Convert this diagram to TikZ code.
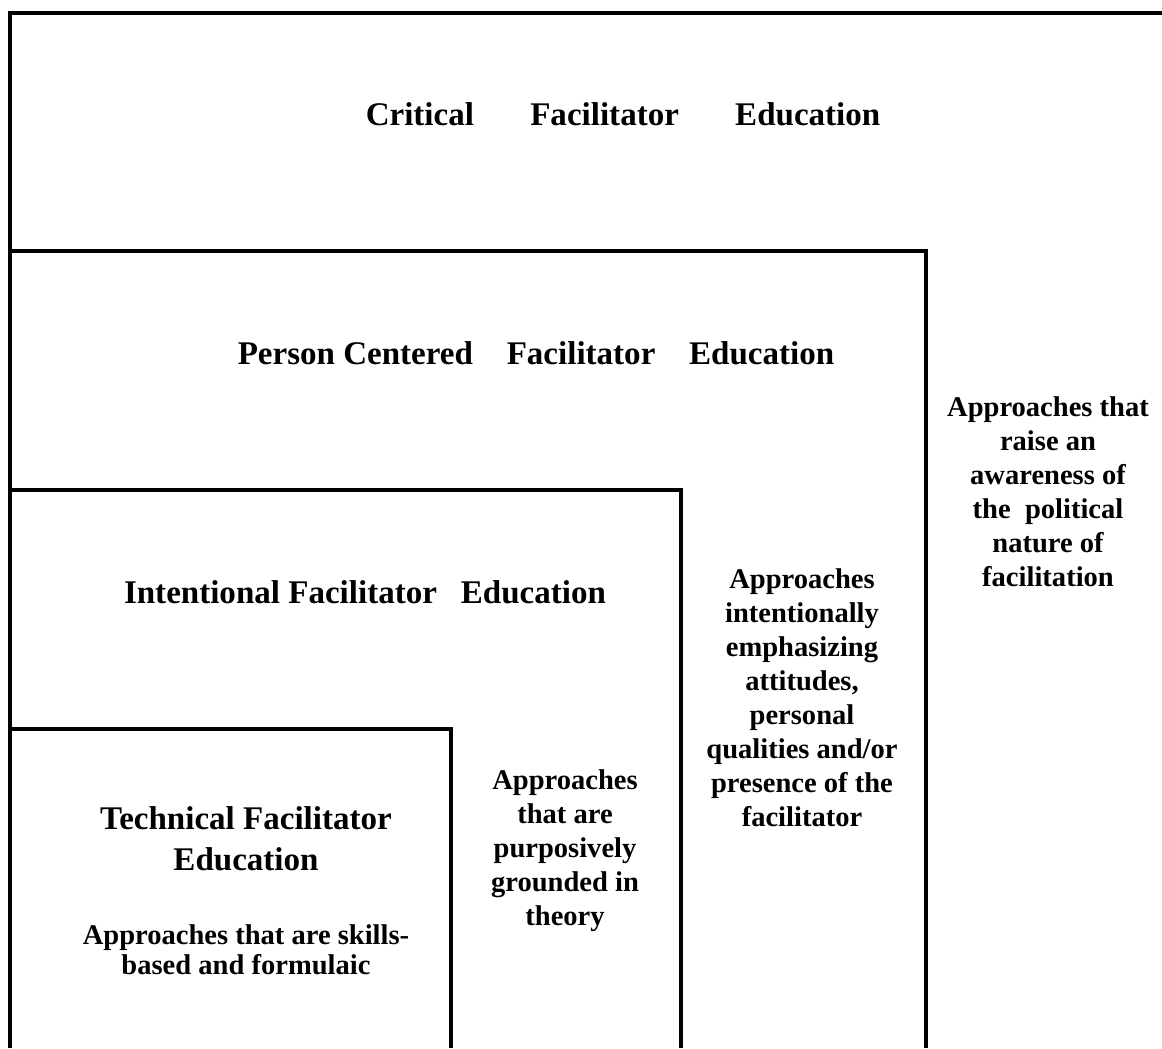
\documentclass[tikz,border=0pt]{standalone}
\usepackage{fontspec}
\setmainfont{Liberation Serif}
\usetikzlibrary{positioning}

\tikzset{
    kader/.style={line width=2.9pt, line join=miter},
    titel/.style={font=\bfseries\fontsize{23.5}{29}\selectfont, align=center, inner sep=0pt},
    uitleg/.style={font=\bfseries\fontsize{20.3}{24.2}\selectfont, align=center, inner sep=0pt}
}

\begin{document}
\begin{tikzpicture}[x=0.025cm, y=-0.025cm]
    \useasboundingbox (0,0) rectangle (1162,1048);
    % coordinaten
    \coordinate (o) at (10,1048);
    \coordinate (k1) at (10,13);
    \coordinate (k2) at (926,251);
    \coordinate (k3) at (681,490);
    \coordinate (k4) at (451,729);
    % kaders
    \draw[kader] (o) -- (k1) -- (1162,13); % critical
    \draw[kader] (k1 |- k2) -- (k2) -- (k2 |- o); % person centered
    \draw[kader] (k1 |- k3) -- (k3) -- (k3 |- o); % intentional
    \draw[kader] (k1 |- k4) -- (k4) -- (k4 |- o); % technical
    % titels
    \node[titel] (crit) at (623,114) {Critical\hspace{40pt}Facilitator\hspace{40pt}Education};
    \node[titel] (pers) at (536,353) {Person Centered\hspace{24pt}Facilitator\hspace{24pt}Education};
    \node[titel] (intn) at (365,592) {Intentional Facilitator\hspace{17pt}Education};
    \node[titel] (tech) at (246,839) {Technical Facilitator\\Education};
    % uitleg
    \node[uitleg, font=\bfseries\fontsize{20.3}{21.5}\selectfont, below=37.5pt of tech] (techtxt) {Approaches that are skills-\\based and formulaic};
    \node[uitleg] (intntxt) at (565,851) {Approaches\\that are\\purposively\\grounded in\\theory};
    \node[uitleg] (perstxt) at (802,698) {Approaches\\intentionally\\emphasizing\\attitudes,\\personal\\qualities and/or\\presence of the\\facilitator};
    \node[uitleg] (crittxt) at (1048,492) {Approaches that\\raise an\\awareness of\\the\ \ political\\nature of\\facilitation};
\end{tikzpicture}
\end{document}
